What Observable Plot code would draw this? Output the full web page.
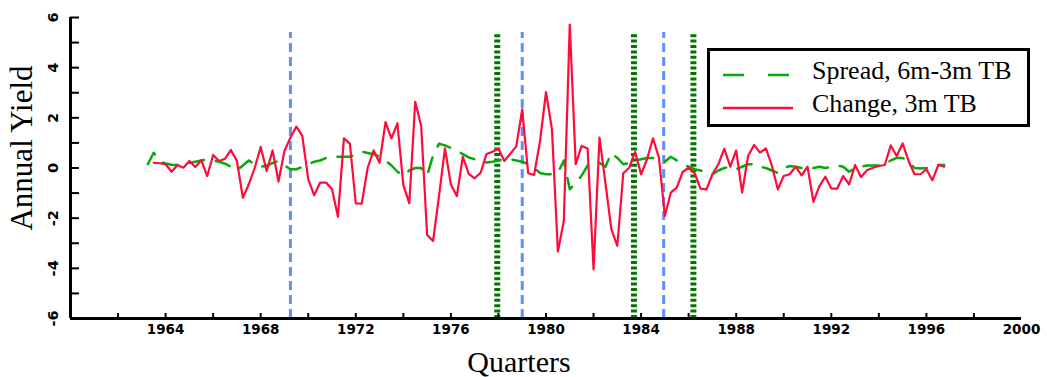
<!DOCTYPE html>
<html>
<head>
<meta charset="utf-8">
<script src="https://cdn.jsdelivr.net/npm/d3@7"></script>
<script src="https://cdn.jsdelivr.net/npm/@observablehq/plot@0.6"></script>
<style>
  body { margin: 0; background: #fff; }
  #wrap { position: relative; width: 1047px; height: 377px; overflow: hidden; }
  #legend { position: absolute; left: 707px; top: 48px; width: 317px; height: 73px;
            border: 3px solid #000; background: #fff; }
  #legend svg { position: absolute; left: 0; top: 0; }
</style>
</head>
<body>
<div id="wrap"></div>
<script>
// ---- data ----
const firstQuarter = 1963.25;   // quarterly observations
const spread = [
  0.15, 0.61, 0.25, 0.18, 0.13, 0.12, 0.15, 0.2, 0.25, 0.3,
  0.35, 0.3, 0.25, 0.17, 0.05, -0.09, 0.1, 0.3, 0.15, 0.04,
  0.1, 0.2, 0.28, 0.1, -0.05, -0.05, 0.05, 0.15, 0.25, 0.3,
  0.4, 0.45, 0.45, 0.45, 0.45, 0.55, 0.65, 0.6, 0.55, 0.45,
  0.3, 0.1, -0.15, -0.3, -0.1, 0.0, 0.0, -0.3, 0.5, 0.97,
  0.9, 0.8, 0.7, 0.55, 0.42, 0.35, 0.3, 0.22, 0.25, 0.3,
  0.35, 0.35, 0.3, 0.25, 0.15, 0.0, -0.2, -0.25, -0.25, -0.2,
  0.3, -0.85, -0.6, -0.3, 0.1, 0.15, 0.2, 0.05, 0.6, 0.4,
  0.15, 0.2, 0.3, 0.35, 0.4, 0.4, 0.35, 0.25, 0.45, 0.3,
  0.15, 0.05, -0.05, -0.1, -0.15, -0.25, -0.1, 0.0, 0.05, -0.05,
  0.05, 0.15, 0.15, 0.05, 0.0, -0.1, -0.2, 0.0, 0.08, 0.05,
  0.0, -0.05, 0.0, 0.05, 0.0, 0.05, 0.1, 0.05, -0.15, 0.0,
  0.05, 0.1, 0.1, 0.1, 0.15, 0.3, 0.4, 0.4, 0.25, 0.0,
  -0.02, 0.0, 0.05, 0.12, 0.12
];
const change = [
  null,
  0.21, 0.19, 0.15, -0.15, 0.12, 0.01, 0.28, 0.04, 0.31, -0.32,
  0.52, 0.28, 0.37, 0.72, 0.28, -1.18, -0.65, 0.01, 0.84, -0.12,
  0.70, -0.54, 0.68, 1.21, 1.65, 1.28, -0.45, -1.09, -0.58, -0.58,
  -0.85, -1.94, 1.18, 0.97, -1.41, -1.42, 0.01, 0.70, 0.21, 1.83,
  1.18, 1.78, -0.68, -1.41, 2.64, 1.67, -2.67, -2.91, -1.12, 0.78,
  -0.66, -1.12, 0.45, -0.23, -0.41, -0.19, 0.56, 0.65, 0.77, 0.28,
  0.57, 0.86, 2.34, -0.21, -0.28, 1.08, 3.03, 1.54, -3.33, -2.11,
  5.72, 0.15, 0.88, 0.78, -4.04, 1.21, -0.6, -2.45, -3.1, -0.21,
  0.01, 0.64, -0.25, 0.35, 1.18, 0.41, -1.91, -0.98, -0.78, -0.16,
  0.01, -0.21, -0.82, -0.85, -0.25, 0.15, 0.77, 0.05, 0.70, -0.98,
  0.48, 0.92, 0.61, 0.78, 0.1, -0.85, -0.32, -0.25, 0.05, -0.29,
  0.05, -1.35, -0.72, -0.35, -0.82, -0.82, -0.32, -0.65, 0.12, -0.36,
  -0.09, 0.01, 0.08, 0.12, 0.90, 0.48, 0.98, 0.28, -0.25, -0.25,
  -0.05, -0.49, 0.12, 0.05
];
const blueLines = [1969.25, 1979.0, 1984.95];
const greenLines = [1977.95, 1983.7, 1986.2];
const markerTop = 5.4;
const xLabels = [1964, 1968, 1972, 1976, 1980, 1984, 1988, 1992, 1996, 2000];
const xMinorTicks = [1962, 1964, 1966, 1968, 1970, 1972, 1974, 1976, 1978, 1980,
  1982, 1984, 1986, 1988, 1990, 1992, 1994, 1996, 1998];
const yLabels = [-6, -4, -2, 0, 2, 4, 6];
const yTicks = [-5, -4, -3, -2, -1, 0, 1, 2, 3, 4, 5, 6];
const seriesNames = ["Spread, 6m-3m TB", "Change, 3m TB"];
const xTitle = "Quarters";
const yTitle = "Annual Yield";

// ---- build table ----
const rows = spread.map((s, i) => ({t: firstQuarter + i / 4, spread: s, change: change[i]}));

const GREEN = "#0aa80a", RED = "#ff0a3c", BLUE = "#5f8fff", DKGREEN = "#007800";
const serif = "'Liberation Serif', 'Times New Roman', serif";
const sans = "'DejaVu Sans', sans-serif";

const chart = Plot.plot({
  width: 1047, height: 377,
  marginLeft: 70, marginRight: 26, marginTop: 17, marginBottom: 59,
  x: {domain: [1960, 2000]},
  y: {domain: [-6, 6]},
  style: {background: "white", color: "black", overflow: "visible"},
  marks: [
    Plot.ruleX(blueLines, {x: d => d, y1: -6, y2: markerTop, stroke: BLUE, strokeWidth: 3, strokeDasharray: "9,5"}),
    Plot.ruleX(greenLines, {x: d => d, y1: -6, y2: markerTop, stroke: DKGREEN, strokeWidth: 6, strokeDasharray: "3,2.4"}),
    Plot.line(rows, {x: "t", y: "spread", stroke: GREEN, strokeWidth: 2.5, strokeDasharray: "15,12"}),
    Plot.line(rows, {x: "t", y: "change", stroke: RED, strokeWidth: 2.2}),
    Plot.ruleX([1960], {stroke: "black", strokeWidth: 3}),
    Plot.ruleY([-6], {stroke: "black", strokeWidth: 3}),
    Plot.axisY({ticks: yTicks, tickSize: -9, fill: "none", stroke: "black", strokeWidth: 2, label: null}),
    Plot.axisX({ticks: xMinorTicks, tickSize: -5, fill: "none", stroke: "black", strokeWidth: 2, label: null}),
    Plot.text(yLabels, {y: d => d, text: d => String(d), frameAnchor: "left", dx: -17, rotate: -90,
      textAnchor: "middle", lineAnchor: "middle", fontSize: 14.5, fontWeight: "bold", fontFamily: sans}),
    Plot.text(xLabels, {x: d => d, text: d => String(d), frameAnchor: "bottom", dy: 15,
      textAnchor: "middle", lineAnchor: "bottom", fontSize: 13.5, fontWeight: "bold", fontFamily: sans}),
    Plot.text([yTitle], {text: d => d, frameAnchor: "left", dx: -48, dy: -20, rotate: -90,
      textAnchor: "middle", lineAnchor: "middle", fontSize: 31, fontFamily: serif}),
    Plot.text([xTitle], {text: d => d, frameAnchor: "bottom", dx: -27, dy: 53,
      textAnchor: "middle", lineAnchor: "bottom", fontSize: 30, fontFamily: serif})
  ]
});

const wrap = document.getElementById("wrap");
wrap.appendChild(chart);

// ---- legend inside the plot area ----
const legend = document.createElement("div");
legend.id = "legend";
wrap.appendChild(legend);
const lsvg = d3.select(legend).append("svg").attr("width", 317).attr("height", 73);
lsvg.append("line").attr("x1", 13).attr("x2", 80).attr("y1", 24).attr("y2", 24)
  .attr("stroke", GREEN).attr("stroke-width", 2.5).attr("stroke-dasharray", "21,24");
lsvg.append("line").attr("x1", 13).attr("x2", 83).attr("y1", 57).attr("y2", 57)
  .attr("stroke", RED).attr("stroke-width", 2.5);
lsvg.selectAll("text").data(seriesNames).join("text")
  .attr("x", 102).attr("y", (d, i) => i === 0 ? 27.5 : 60.5)
  .attr("font-family", serif).attr("font-size", 26).attr("fill", "black")
  .text(d => d);
</script>
</body>
</html>
